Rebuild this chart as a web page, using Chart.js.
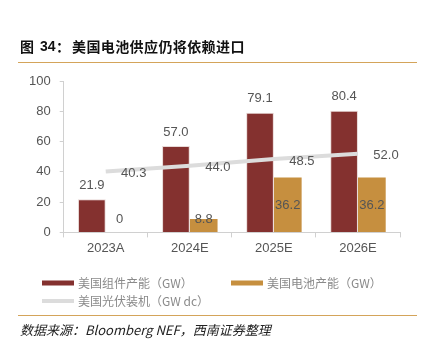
<!DOCTYPE html>
<html>
<head>
<meta charset="utf-8">
<script src="https://cdn.jsdelivr.net/npm/chart.js@4.4.1/dist/chart.umd.min.js"></script>
<style>
  html, body { margin: 0; padding: 0; background: #fff; }
  #wrap { width: 426px; height: 342px; position: relative; }
</style>
</head>
<body>
<div id="wrap"><canvas id="myChart" width="426" height="342"></canvas></div>
<script>
const years = ["2023A", "2024E", "2025E", "2026E"];
const moduleCap = [21.9, 57.0, 79.1, 80.4];
const cellCap = [0, 8.8, 36.2, 36.2];
const installs = [40.3, 44.0, 48.5, 52.0];
const yTicks = [0, 20, 40, 60, 80, 100];

const RED = "#84312F";
const GOLD = "#C68F3F";
const GREY_LINE = "#DCDCDC";
const NUM_FONT = "'Liberation Sans', Arial, sans-serif";
const CJK_FONT = "'Noto Sans CJK SC', sans-serif";

// title, rules, legend, source note and value labels
const decor = {
  id: "decor",
  afterDraw(chart) {
    const c = chart.ctx;
    const W = chart.width;
    c.save();

    // title, CJK part spaced out one glyph at a time
    c.fillStyle = "#111";
    c.textBaseline = "middle";
    c.font = "bold 14px " + CJK_FONT;
    c.fillText("图", 20, 47);
    c.font = "bold 14px " + NUM_FONT;
    c.fillText("34", 40, 47);
    c.font = "bold 14px " + CJK_FONT;
    c.fillText("：", 56, 47);
    Array.from("美国电池供应仍将依赖进口").forEach((ch, i) => {
      c.fillText(ch, 72 + i * 14.4, 47);
    });

    // rules
    c.strokeStyle = "#D4A45A";
    c.lineWidth = 1;
    c.beginPath();
    c.moveTo(18, 62.5); c.lineTo(W - 9, 62.5);
    c.moveTo(18, 315.5); c.lineTo(W - 9, 315.5);
    c.stroke();

    // source note
    c.fillStyle = "#222";
    c.font = "italic 13px " + CJK_FONT;
    c.fillText("数据来源：Bloomberg NEF，西南证券整理", 20, 330);

    // legend
    const items = [
      { label: "美国组件产能（GW）", color: RED, x: 42, y: 283, h: 5 },
      { label: "美国电池产能（GW）", color: GOLD, x: 231, y: 283, h: 5 },
      { label: "美国光伏装机（GW dc）", color: GREY_LINE, x: 42, y: 301, h: 4 }
    ];
    c.font = "12px " + CJK_FONT;
    items.forEach(it => {
      c.fillStyle = it.color;
      c.fillRect(it.x, it.y - it.h / 2, 32, it.h);
      c.fillStyle = "#8A8A8A";
      c.fillText(it.label, it.x + 36, it.y);
    });

    // value labels
    c.font = "13px " + NUM_FONT;
    c.fillStyle = "#555";
    c.textAlign = "center";
    const y0 = chart.scales.y.getPixelForValue(0);
    chart.getDatasetMeta(0).data.forEach((bar, i) => {
      c.fillText(moduleCap[i].toFixed(1), bar.x, bar.y - 14);
    });
    chart.getDatasetMeta(1).data.forEach((bar, i) => {
      const v = cellCap[i];
      const mid = Math.min((bar.y + y0) / 2, y0 - 13);
      c.fillText(v === 0 ? "0" : v.toFixed(1), bar.x, mid);
    });
    chart.getDatasetMeta(2).data.forEach((pt, i) => {
      c.fillText(installs[i].toFixed(1), pt.x + 28, pt.y + 2);
    });
    c.restore();
  }
};

const ctx = document.getElementById("myChart").getContext("2d");

const capChart = new Chart(ctx, {
  type: "bar",
  data: {
    labels: years,
    datasets: [
      {
        label: "美国组件产能（GW）",
        data: moduleCap,
        backgroundColor: RED,
        borderColor: "#E8D8D6",
        borderWidth: 1,
        categoryPercentage: 0.66,
        barPercentage: 1,
        order: 2
      },
      {
        label: "美国电池产能（GW）",
        data: cellCap,
        backgroundColor: GOLD,
        categoryPercentage: 0.66,
        barPercentage: 1,
        order: 2
      },
      {
        type: "line",
        label: "美国光伏装机（GW dc）",
        data: installs,
        borderColor: GREY_LINE,
        borderWidth: 4,
        pointRadius: 0,
        tension: 0,
        order: 1
      }
    ]
  },
  options: {
    responsive: false,
    animation: false,
    layout: { padding: { left: 20, right: 26, top: 81, bottom: 83 } },
    plugins: {
      legend: { display: false },
      tooltip: { enabled: false }
    },
    scales: {
      x: {
        grid: {
          display: true,
          drawOnChartArea: false,
          drawTicks: true,
          tickLength: 5,
          color: "#D0D0D0",
          offset: true
        },
        border: { color: "#D0D0D0" },
        ticks: {
          color: "#555",
          font: { family: NUM_FONT, size: 13 },
          padding: 3
        }
      },
      y: {
        min: 0,
        max: 100,
        afterBuildTicks(axis) {
          axis.ticks = yTicks.map(v => ({ value: v }));
        },
        grid: {
          display: true,
          drawOnChartArea: false,
          drawTicks: true,
          tickLength: 4,
          color: "#D0D0D0"
        },
        border: { color: "#D0D0D0" },
        ticks: {
          color: "#555",
          font: { family: NUM_FONT, size: 13 },
          padding: 9
        }
      }
    }
  },
  plugins: [decor]
});
</script>
</body>
</html>
